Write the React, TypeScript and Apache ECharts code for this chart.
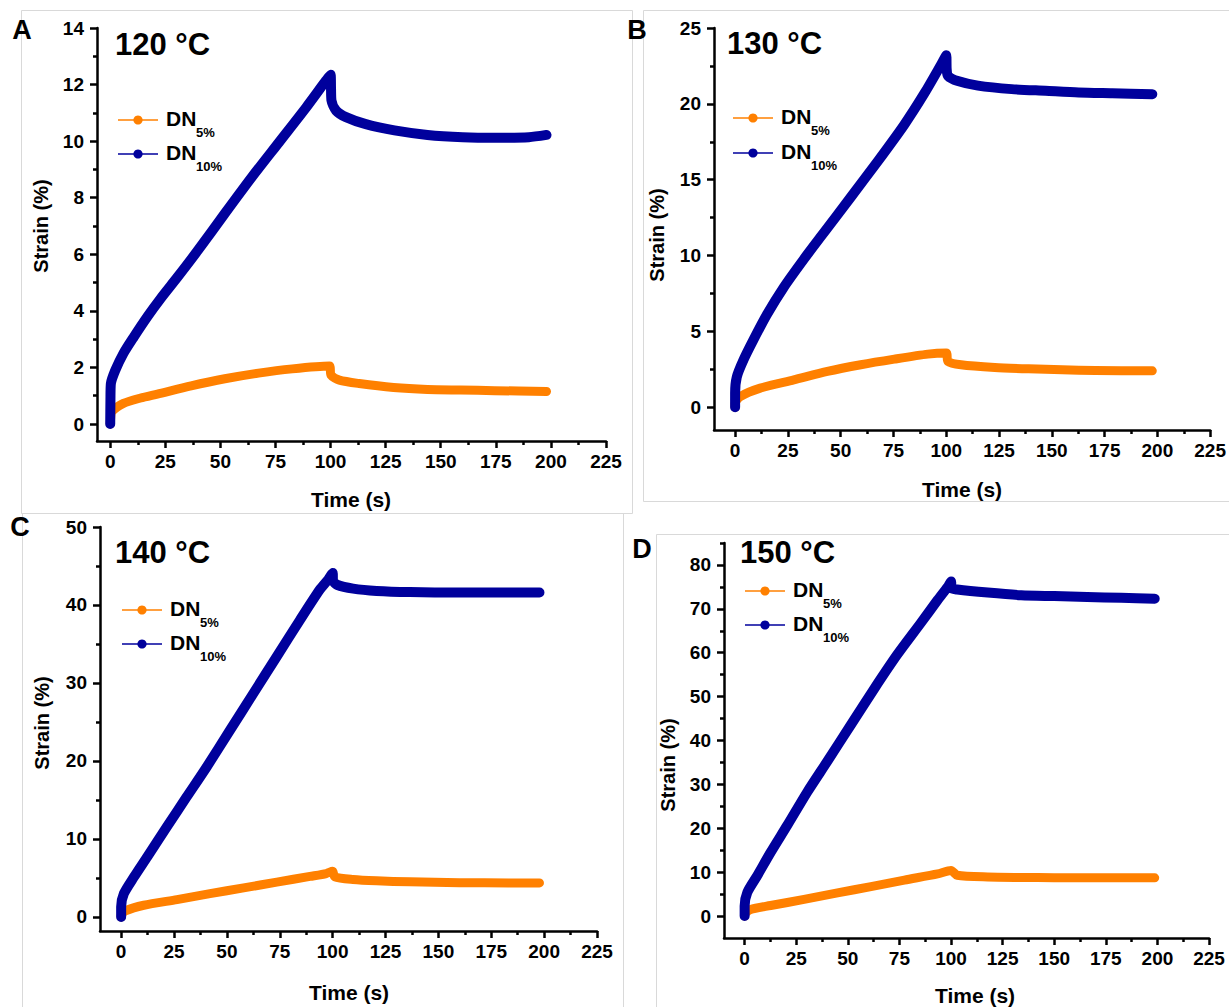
import React, { useEffect, useRef } from 'react';
import * as echarts from 'echarts';

const FONT = 'Arial, "Liberation Sans", Helvetica, sans-serif';
const ORANGE = '#FF8000';
const BLUE = '#00009C';

// ---------- data ----------
const seriesNames = ['DN5%', 'DN10%'];
const legendMain = ['DN', 'DN'];
const legendSub = ['5%', '10%'];
const panelLetters = ['A', 'B', 'C', 'D'];
const temperatures = ['120 °C', '130 °C', '140 °C', '150 °C'];
const xTitle = 'Time (s)';
const yTitle = 'Strain (%)';

const xMajorTicks = [0, 25, 50, 75, 100, 125, 150, 175, 200, 225];
const xMinorTicks = [12.5, 37.5, 62.5, 87.5, 112.5, 137.5, 162.5, 187.5, 212.5];

const yMajorA = [0, 2, 4, 6, 8, 10, 12, 14];
const yMinorA = [1, 3, 5, 7, 9, 11, 13];
const yMajorB = [0, 5, 10, 15, 20, 25];
const yMinorB = [2.5, 7.5, 12.5, 17.5, 22.5];
const yMajorC = [0, 10, 20, 30, 40, 50];
const yMinorC = [5, 15, 25, 35, 45];
const yMajorD = [0, 10, 20, 30, 40, 50, 60, 70, 80];
const yMinorD = [5, 15, 25, 35, 45, 55, 65, 75, 85];

// [time (s), strain (%)]
const A_DN5 = [[0, 0], [0.1, 0.14], [0.8, 0.44], [6, 0.73], [13.8, 0.92], [21.4, 1.06], [36.7, 1.35], [52, 1.6], [67.3, 1.8], [82.6, 1.95], [99.5, 2.05], [100.2, 1.73], [104, 1.55], [113, 1.43], [128.6, 1.29], [144, 1.22], [159, 1.2], [174.5, 1.18], [198, 1.15]];
const A_DN10 = [[0, 0], [0.1, 0.85], [0.3, 1.43], [2.3, 1.9], [6, 2.5], [10.7, 3.08], [16.8, 3.79], [22.9, 4.44], [30.6, 5.2], [39.8, 6.14], [52, 7.44], [64.3, 8.73], [76.5, 9.95], [89, 11.2], [98, 12.15], [100, 12.35], [100.2, 11.9], [100.4, 11.44], [102.5, 11.08], [107, 10.85], [116, 10.6], [129, 10.38], [144, 10.22], [160, 10.14], [175, 10.12], [190, 10.14], [198, 10.22]];

const B_DN5 = [[0, 0], [0, 0.26], [2.4, 0.7], [11.9, 1.26], [27.8, 1.8], [43.7, 2.36], [59.5, 2.8], [75.4, 3.17], [91.3, 3.5], [100, 3.57], [100.8, 3.02], [107, 2.8], [123, 2.62], [139, 2.53], [155, 2.47], [170.6, 2.42], [197.6, 2.4]];
const B_DN10 = [[0, 0], [0, 0.93], [0.8, 2.0], [4, 3.13], [8.7, 4.45], [15, 6.1], [23, 7.9], [32.5, 9.75], [42, 11.5], [54.8, 13.85], [67.5, 16.2], [80, 18.6], [89.7, 20.7], [97.6, 22.6], [100, 23.2], [100.2, 22.3], [100.8, 21.85], [105.5, 21.5], [115, 21.2], [131, 20.97], [147, 20.86], [162.7, 20.75], [178.6, 20.7], [197.6, 20.64]];

const C_DN5 = [[0, 0], [0, 0.2], [2, 0.77], [10.7, 1.5], [26.4, 2.23], [42, 3.0], [57.9, 3.73], [73.6, 4.46], [89.3, 5.2], [97, 5.57], [100, 5.85], [101, 5.14], [109.7, 4.8], [120.8, 4.63], [136.5, 4.5], [160, 4.4], [183.6, 4.37], [197.8, 4.37]];
const C_DN10 = [[0, 0], [0, 1.3], [1.3, 3], [6, 5.1], [12.3, 7.7], [21.7, 11.6], [31, 15.4], [40.6, 19.3], [51.6, 24], [62.6, 28.7], [73.6, 33.4], [84.6, 38.1], [94, 42], [98, 43.3], [100, 44.1], [100.2, 43.1], [102, 42.6], [109.7, 42.1], [120.8, 41.8], [136.5, 41.65], [160, 41.6], [183.6, 41.6], [197.8, 41.6]];

const D_DN5 = [[0, 0], [0, 0.4], [2.9, 1.5], [12.6, 2.4], [28.8, 3.8], [45, 5.3], [61.2, 6.7], [77.4, 8.2], [93.5, 9.6], [100, 10.4], [103, 9.3], [117.8, 8.9], [134, 8.8], [150, 8.75], [166, 8.7], [182.5, 8.7], [198.7, 8.7]];
const D_DN10 = [[0, 0], [0, 2.3], [1.3, 5.4], [6.1, 9.2], [12.6, 14.5], [20.7, 20.7], [30.4, 28.3], [40, 35.2], [51.5, 43.6], [62.8, 51.8], [74, 59.6], [85.4, 66.8], [93.5, 72], [98.4, 75], [100, 76.2], [100.2, 74.7], [103, 74.4], [117.8, 73.7], [134, 73.1], [150, 72.9], [166, 72.7], [182.5, 72.5], [198.7, 72.3]];

// ---------- layout (positions / sizes) ----------
const panels = [
  {
    grid: { left: 97, top: 28, width: 509, height: 413 }, xMin: -6, xMax: 225, yMin: -0.6, yMax: 14,
    yMajor: yMajorA, yMinor: yMinorA, dn5: A_DN5, dn10: A_DN10,
    letter: [22, 30], title: [115, 44], legend: { x: 118, ys: [120, 154] }, xT: [351, 499], yT: [41, 226],
  },
  {
    grid: { left: 714, top: 28, width: 498, height: 402 }, xMin: -10, xMax: 225, yMin: -1.5, yMax: 25,
    yMajor: yMajorB, yMinor: yMinorB, dn5: B_DN5, dn10: B_DN10,
    letter: [637, 30], title: [727, 43], legend: { x: 733, ys: [118, 153] }, xT: [962, 489], yT: [657, 235],
  },
  {
    grid: { left: 100, top: 527, width: 497, height: 404 }, xMin: -10, xMax: 225, yMin: -1.8, yMax: 50,
    yMajor: yMajorC, yMinor: yMinorC, dn5: C_DN5, dn10: C_DN10,
    letter: [20, 527], title: [115, 552], legend: { x: 122, ys: [610, 644] }, xT: [349, 992], yT: [42, 723],
  },
  {
    grid: { left: 724, top: 543, width: 485, height: 395 }, xMin: -10, xMax: 225, yMin: -5, yMax: 85,
    yMajor: yMajorD, yMinor: yMinorD, dn5: D_DN5, dn10: D_DN10,
    letter: [642, 549], title: [740, 552], legend: { x: 745, ys: [591, 625] }, xT: [975, 995], yT: [668, 765],
  },
];

const frames = [
  { x: 21.5, y: 10.5, width: 611, height: 503 },
  { x: 643.5, y: 10.5, width: 600, height: 491 },
  { x: 22.5, y: 513.5, width: 601, height: 502 },
  { x: 656.5, y: 534.5, width: 600, height: 500 },
];

const AXIS_W = 2.5;
const tickFont = { fontSize: 19, fontWeight: 'bold', color: '#000', fontFamily: FONT };
const seriesColors = [ORANGE, BLUE];
const seriesWidths = [9, 10];

function buildOption() {
  const grid: any[] = [];
  const xAxis: any[] = [];
  const yAxis: any[] = [];
  const series: any[] = [];
  const graphic: any[] = [];

  frames.forEach((f) => {
    graphic.push({ type: 'rect', z: -10, shape: f, style: { fill: 'none', stroke: '#d9d9d9', lineWidth: 1 }, silent: true });
  });

  panels.forEach((p, i) => {
    grid.push({ ...p.grid, containLabel: false });
    const common = { type: 'value', gridIndex: i, splitLine: { show: false } };
    xAxis.push({
      ...common, min: p.xMin, max: p.xMax, position: 'bottom',
      axisLine: { show: true, onZero: false, lineStyle: { color: '#000', width: AXIS_W } },
      axisTick: { show: true, length: 7, customValues: xMajorTicks, lineStyle: { color: '#000', width: AXIS_W } },
      axisLabel: { show: true, customValues: xMajorTicks, margin: 11, ...tickFont },
    });
    xAxis.push({
      ...common, min: p.xMin, max: p.xMax, position: 'bottom', offset: 0,
      axisLine: { show: false, onZero: false },
      axisTick: { show: true, length: 4, customValues: xMinorTicks, lineStyle: { color: '#000', width: AXIS_W } },
      axisLabel: { show: false },
    });
    yAxis.push({
      ...common, min: p.yMin, max: p.yMax, position: 'left',
      axisLine: { show: true, onZero: false, lineStyle: { color: '#000', width: AXIS_W } },
      axisTick: { show: true, length: 7, customValues: p.yMajor, lineStyle: { color: '#000', width: AXIS_W } },
      axisLabel: { show: true, customValues: p.yMajor, margin: 13, ...tickFont },
    });
    yAxis.push({
      ...common, min: p.yMin, max: p.yMax, position: 'left', offset: 0,
      axisLine: { show: false, onZero: false },
      axisTick: { show: true, length: 4, customValues: p.yMinor, lineStyle: { color: '#000', width: AXIS_W } },
      axisLabel: { show: false },
    });

    [p.dn5, p.dn10].forEach((d, k) => {
      series.push({
        type: 'line', name: seriesNames[k], xAxisIndex: 2 * i, yAxisIndex: 2 * i, data: d,
        symbol: 'circle', showSymbol: false, silent: true, smooth: 0.25,
        lineStyle: { color: seriesColors[k], width: seriesWidths[k], cap: 'round', join: 'round' },
        itemStyle: { color: seriesColors[k] },
      });
    });

    // legend (drawn as graphics for exact subscript placement)
    const lg = p.legend;
    lg.ys.forEach((y, k) => {
      graphic.push({
        type: 'line', silent: true,
        shape: { x1: lg.x, y1: y, x2: lg.x + 40, y2: y },
        style: { stroke: seriesColors[k], lineWidth: 1.5 },
      });
      graphic.push({
        type: 'circle', silent: true,
        shape: { cx: lg.x + 20, cy: y, r: 4.6 },
        style: { fill: seriesColors[k] },
      });
      graphic.push({
        type: 'text', silent: true, x: lg.x + 48, y: y - 1.5,
        style: { text: legendMain[k], fontSize: 21, fontWeight: 'bold', fontFamily: FONT, fill: '#000', align: 'left', verticalAlign: 'middle' },
      });
      graphic.push({
        type: 'text', silent: true, x: lg.x + 48 + 30, y: y + 12.5,
        style: { text: legendSub[k], fontSize: 13, fontWeight: 'bold', fontFamily: FONT, fill: '#000', align: 'left', verticalAlign: 'middle' },
      });
    });

    graphic.push({
      type: 'text', x: p.letter[0], y: p.letter[1], silent: true,
      style: { text: panelLetters[i], fontSize: 27, fontWeight: 'bold', fontFamily: FONT, fill: '#000', align: 'center', verticalAlign: 'middle' },
    });
    graphic.push({
      type: 'text', x: p.title[0], y: p.title[1], silent: true,
      style: { text: temperatures[i], fontSize: 31, fontWeight: 'bold', fontFamily: FONT, fill: '#000', align: 'left', verticalAlign: 'middle' },
    });
    graphic.push({
      type: 'text', x: p.xT[0], y: p.xT[1], silent: true,
      style: { text: xTitle, fontSize: 21, fontWeight: 'bold', fontFamily: FONT, fill: '#000', align: 'center', verticalAlign: 'middle' },
    });
    graphic.push({
      type: 'text', x: p.yT[0], y: p.yT[1], rotation: Math.PI / 2, silent: true,
      style: { text: yTitle, fontSize: 20, fontWeight: 'bold', fontFamily: FONT, fill: '#000', align: 'center', verticalAlign: 'middle' },
    });
  });

  return {
    animation: false,
    backgroundColor: '#ffffff',
    textStyle: { fontFamily: FONT },
    grid, xAxis, yAxis, series, graphic,
  };
}

export default function App() {
  const ref = useRef<HTMLDivElement>(null);
  useEffect(() => {
    document.body.style.margin = '0';
    if (!ref.current) return;
    const chart = echarts.init(ref.current, undefined, { renderer: 'svg' });
    chart.setOption(buildOption() as any);
    return () => chart.dispose();
  }, []);
  return <div ref={ref} style={{ width: 1229, height: 1007, background: '#fff' }} />;
}
